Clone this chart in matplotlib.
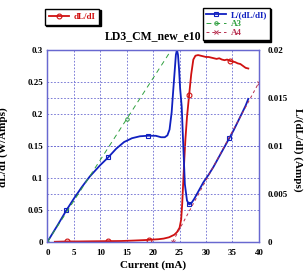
import matplotlib
matplotlib.use("Agg")
import matplotlib.pyplot as plt

plt.rcParams["font.family"] = ["Liberation Serif", "DejaVu Serif"]
plt.rcParams["font.weight"] = "bold"

# dL/dI (left axis, W/Amps)
current_red = [1.4, 3.75, 6, 9, 11.5, 14, 16, 18, 19.2, 20, 21, 22, 23, 24, 24.5,
               25.0, 25.3, 25.5, 25.7, 25.9, 26.1, 26.4, 26.8, 27.2, 27.6, 28.0,
               28.5, 29, 29.5, 30, 30.5, 31, 31.5, 32, 32.5, 33, 33.5, 34, 34.5,
               35, 35.5, 36, 36.5, 37, 37.5, 38]
dldi = [0.0, 0.0005, 0.0005, 0.0008, 0.001, 0.0012, 0.0018, 0.0025, 0.003, 0.0035,
        0.004, 0.005, 0.007, 0.011, 0.015, 0.022, 0.035, 0.06, 0.095, 0.13, 0.16,
        0.195, 0.229, 0.262, 0.285, 0.291, 0.292, 0.291, 0.290, 0.289, 0.289,
        0.288, 0.287, 0.286, 0.287, 0.285, 0.284, 0.285, 0.283, 0.282, 0.281,
        0.279, 0.278, 0.275, 0.272, 0.271]
red_marks = [1, 4, 8, 22, 38]

# L/(dL/dI) (right axis, Amps)
current_blue = [0, 1, 2, 3.6, 5, 6.5, 8, 10, 11.5, 13, 14.5, 16, 17.5, 19.1, 20.5,
                21.5, 22.2, 22.7, 23.1, 23.5, 23.8, 24.1, 24.3, 24.5, 24.7, 24.9,
                25.1, 25.4, 25.7, 26.0, 26.4, 26.8, 27.2, 27.8, 28.5, 29.5, 30.5,
                31.4, 32.5, 33.5, 34.4, 35.2, 36, 36.8, 37.5, 38]
l_over = [0, 0.0009, 0.0018, 0.0033, 0.0045, 0.0057, 0.0068, 0.0080, 0.0088,
          0.0097, 0.0104, 0.0108, 0.0110, 0.01106, 0.01105, 0.0109, 0.0109,
          0.0111, 0.0117, 0.0135, 0.0158, 0.0180, 0.0195, 0.0200, 0.0195, 0.018,
          0.016, 0.0141, 0.010, 0.0060, 0.0043, 0.0039, 0.0040, 0.0045, 0.0052,
          0.0062, 0.0070, 0.0078, 0.0089, 0.0099, 0.0108, 0.0116, 0.0125, 0.0134,
          0.0142, 0.0149]
blue_marks = [3, 8, 13, 31, 40]

# fit lines
current_a3 = [0, 7.5, 15, 22.5, 24]
a3 = [0, 0.0064, 0.0128, 0.0192, 0.0205]
current_a4 = [23.7, 40]
a4 = [0, 0.0166]

blue = "#1020c0"
red = "#d01010"
green = "#30a040"
a4_col = "#b83050"
grid_col = "#6868d0"

fig = plt.figure(figsize=(3.06, 2.76), dpi=100)
ax = fig.add_axes([0.155, 0.124, 0.691, 0.695])
ax2 = ax.twinx()

ax.plot(current_red, dldi, color=red, lw=1.3, marker="o", ms=3.5,
        mfc="none", mew=0.8, markevery=red_marks, label="dL/dI")
ax2.plot(current_blue, l_over, color=blue, lw=1.3, marker="s", ms=3.5,
         mfc="none", mew=0.8, markevery=blue_marks, label="L/(dL/dI)")
ax2.plot(current_a3, a3, color=green, lw=0.7, ls=(0, (5, 4)), marker="o", ms=2.5,
         mfc="none", mew=0.7, markevery=[0, 2], label="A3")
ax2.plot(current_a4, a4, color=a4_col, lw=0.7, ls=(0, (3, 3)), marker="x", ms=3.5,
         mew=0.7, label="A4")

ax.set_xlim(0, 40)
ax.set_ylim(0, 0.3)
ax2.set_ylim(0, 0.02)
ax.set_xticks(range(0, 41, 5))
ax.set_yticks([0, 0.05, 0.1, 0.15, 0.2, 0.25, 0.3])
ax.set_yticklabels(["0", "0.05", "0.1", "0.15", "0.2", "0.25", "0.3"])
ax2.set_yticks([0, 0.005, 0.01, 0.015, 0.02])
ax2.set_yticklabels(["0", "0.005", "0.01", "0.015", "0.02"])

for a in (ax, ax2):
    a.grid(True, color=grid_col, ls=(0, (2, 2)), lw=0.6)
    a.tick_params(length=0, labelsize=6.5)
    for s in a.spines.values():
        s.set_color(grid_col)
        s.set_linewidth(0.9)
ax2.grid(axis="x", visible=False)
ax.tick_params(axis="y", pad=3)
ax.tick_params(axis="x", pad=5)
ax2.tick_params(axis="y", pad=6)

ax.set_title("LD3_CM_new_e10", fontsize=8.5, fontweight="bold", pad=8)
ax.set_xlabel("Current (mA)", fontsize=8, fontweight="bold", labelpad=3)
fig.text(0.012, 0.467, "dL/dI (W/Amps)", rotation=90, ha="center", va="center",
         fontsize=8, fontweight="bold")
fig.text(0.974, 0.457, "L/(dL/dI) (Amps)", rotation=270, ha="center", va="center",
         fontsize=8, fontweight="bold")

shadow = {"ox": 1.0, "oy": -1.0, "color": "k", "alpha": 1}
leg1 = ax.legend(loc="upper left", bbox_to_anchor=(45 / 306, 1 - 9 / 276),
                 bbox_transform=fig.transFigure, borderaxespad=0, fontsize=6.5,
                 labelcolor="linecolor", fancybox=False, edgecolor="k",
                 framealpha=1, shadow=shadow, handlelength=2.3, borderpad=0.4,
                 handletextpad=0.5)
leg1.get_frame().set_linewidth(1.0)
leg2 = ax2.legend(loc="upper left", bbox_to_anchor=(203 / 306, 1 - 8 / 276),
                  bbox_transform=fig.transFigure, borderaxespad=0, fontsize=6.5,
                  labelcolor="linecolor", fancybox=False, edgecolor="k",
                  framealpha=1, shadow=shadow, handlelength=2.3, borderpad=0.3,
                  labelspacing=0.1, handletextpad=0.5)
leg2.get_frame().set_linewidth(1.0)

fig.savefig("out.png", dpi=100)
